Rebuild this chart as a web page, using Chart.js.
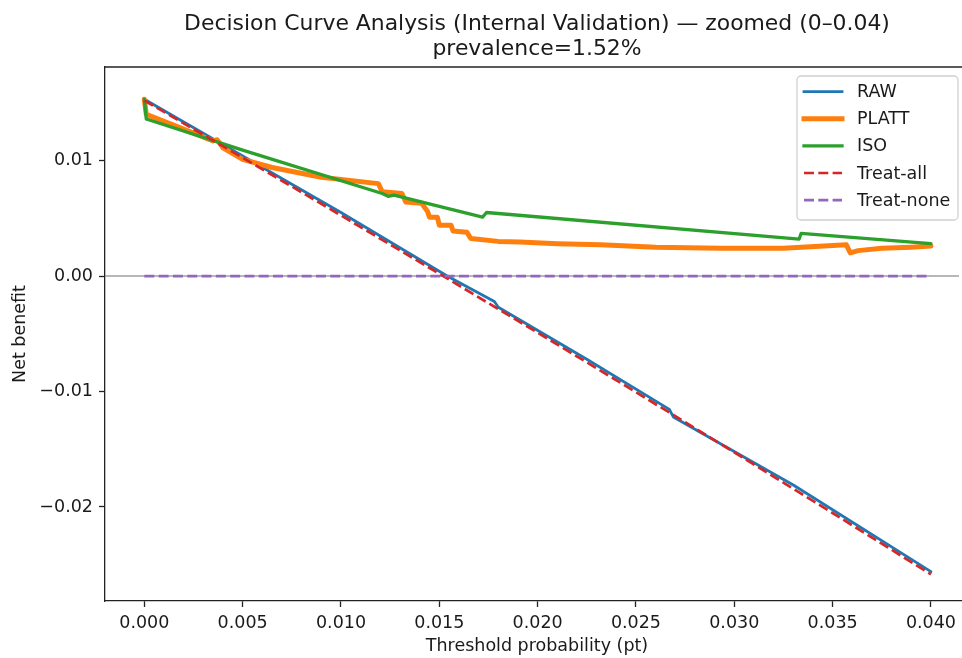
<!DOCTYPE html>
<html>
<head>
<meta charset="utf-8">
<script src="https://cdn.jsdelivr.net/npm/chart.js@4.4.1/dist/chart.umd.min.js"></script>
<style>
  html, body { margin: 0; padding: 0; background: #fff; overflow: hidden; }
  #wrap { width: 962px; height: 658px; }
</style>
</head>
<body>
<div id="wrap"><canvas id="dca" width="962" height="658"></canvas></div>
<script>
// chart text
const chartTitle = ["Decision Curve Analysis (Internal Validation) \u2014 zoomed (0\u20130.04)", "prevalence=1.52%"];
const xLabel = "Threshold probability (pt)";
const yLabel = "Net benefit";

// tick values
const xTicks = [0, 0.005, 0.01, 0.015, 0.02, 0.025, 0.03, 0.035, 0.04];
const yTicks = [-0.02, -0.01, 0, 0.01];

// RAW model
const rawPt = [0, 0.005, 0.01, 0.0154, 0.0178, 0.018, 0.0225, 0.0267, 0.0269, 0.033, 0.04];
const rawNb = [0.0153, 0.0104, 0.0055, 0.0, -0.0022, -0.0027, -0.0072, -0.01155, -0.0122, -0.0181, -0.0256];

// PLATT calibrated
const plattPt = [0, 0.0001, 0.0035, 0.0037, 0.004, 0.005, 0.0065, 0.009, 0.0119, 0.0121, 0.0131, 0.0133, 0.0141,
                 0.0144, 0.0145, 0.0149, 0.015, 0.0156, 0.0157, 0.0164, 0.0166, 0.018, 0.0191, 0.021, 0.0232,
                 0.026, 0.0293, 0.0325, 0.0357, 0.0359, 0.0363, 0.0375, 0.039, 0.04];
const plattNb = [0.0153, 0.0140, 0.0117, 0.0118, 0.0111, 0.0101, 0.0094, 0.00855, 0.0080, 0.0073, 0.00715, 0.0064, 0.0063,
                 0.0056, 0.0051, 0.0051, 0.0044, 0.0044, 0.0039, 0.0038, 0.00325, 0.0030, 0.00295, 0.0028, 0.0027,
                 0.0025, 0.0024, 0.0024, 0.0027, 0.0020, 0.0022, 0.0024, 0.0025, 0.0026];

// ISO calibrated
const isoPt = [0, 0.0001, 0.005, 0.0121, 0.0124, 0.0127, 0.0172, 0.0174, 0.0333, 0.0334, 0.04];
const isoNb = [0.0153, 0.0136, 0.0109, 0.00715, 0.0069, 0.0070, 0.0051, 0.0055, 0.0032, 0.0037, 0.0028];

// reference strategies
const allPt = [0, 0.005, 0.01, 0.015, 0.02, 0.025, 0.03, 0.035, 0.04];
const allNb = [0.0152, 0.01025, 0.00525, 0.0002, -0.0049, -0.01005, -0.01526, -0.02052, -0.02583];
const nonePt = [0, 0.04];
const noneNb = [0, 0];

const pts = (xs, ys) => xs.map((x, i) => ({ x: x, y: ys[i] }));

const FONT = "'DejaVu Sans', 'Liberation Sans', sans-serif";
const INK = "#1a1a1a";

// the original axes run ~7px past the cropped right edge, so centre text on that
const axesMid = a => (a.left + a.right + 7) / 2;

const decoration = {
    id: "decoration",
    beforeDatasetsDraw(chart) {
        const { ctx, chartArea: a, scales } = chart;
        const y0 = scales.y.getPixelForValue(0);
        ctx.save();
        ctx.strokeStyle = "rgba(128,128,128,0.75)";
        ctx.lineWidth = 1.6;
        ctx.beginPath();
        ctx.moveTo(a.left, y0);
        ctx.lineTo(a.right, y0);
        ctx.stroke();
        ctx.restore();
    },
    afterDraw(chart) {
        const { ctx, chartArea: a } = chart;
        ctx.save();

        // keep the cropped right edge clean
        ctx.fillStyle = "#fff";
        ctx.fillRect(a.right - 3, a.top + 1, 6, a.bottom - a.top - 2);

        // top spine
        ctx.strokeStyle = "#222";
        ctx.lineWidth = 1.3;
        ctx.beginPath();
        ctx.moveTo(a.left, a.top);
        ctx.lineTo(a.right, a.top);
        ctx.stroke();

        // title
        ctx.fillStyle = INK;
        ctx.font = "21.9px " + FONT;
        ctx.textAlign = "center";
        ctx.textBaseline = "alphabetic";
        const cx = axesMid(a);
        ctx.fillText(chartTitle[0], cx, 29.5);
        ctx.fillText(chartTitle[1], cx, 54.5);

        // axis titles
        ctx.font = "17.5px " + FONT;
        ctx.textBaseline = "middle";
        ctx.fillText(xLabel, cx, 646);
        ctx.save();
        ctx.translate(20, (a.top + a.bottom) / 2);
        ctx.rotate(-Math.PI / 2);
        ctx.fillText(yLabel, 0, 0);
        ctx.restore();

        // legend
        const lx = a.right - 165, ly = a.top + 9, lw = 161, lh = 144;
        ctx.beginPath();
        ctx.roundRect(lx, ly, lw, lh, 4);
        ctx.fillStyle = "rgba(255,255,255,0.8)";
        ctx.fill();
        ctx.strokeStyle = "#d0d0d0";
        ctx.lineWidth = 1.3;
        ctx.stroke();

        ctx.textAlign = "left";
        chart.data.datasets.forEach((ds, i) => {
            const ry = ly + 15.7 + i * 27.1;
            ctx.beginPath();
            ctx.strokeStyle = ds.borderColor;
            ctx.lineWidth = ds.borderWidth;
            ctx.setLineDash(ds.borderDash || []);
            ctx.lineCap = ds.borderDash ? "butt" : "square";
            ctx.moveTo(lx + 7, ry);
            ctx.lineTo(lx + 45, ry);
            ctx.stroke();
            ctx.setLineDash([]);
            ctx.fillStyle = INK;
            ctx.fillText(ds.label, lx + 60, ry + 1);
        });
        ctx.restore();
    }
};

const line = (label, xs, ys, color, width, order, dash) => ({
    label: label,
    data: pts(xs, ys),
    borderColor: color,
    borderWidth: width,
    borderDash: dash,
    borderJoinStyle: "round",
    borderCapStyle: dash ? "butt" : "round",
    pointRadius: 0,
    tension: 0,
    fill: false,
    order: order
});

new Chart(document.getElementById("dca"), {
    type: "line",
    data: {
        datasets: [
            line("RAW", rawPt, rawNb, "#1f77b4", 2.8, 5),
            line("PLATT", plattPt, plattNb, "#ff7f0e", 5, 4),
            line("ISO", isoPt, isoNb, "#2ca02c", 3.3, 3),
            line("Treat-all", allPt, allNb, "#d62728", 2.7, 2, [10, 4.3]),
            line("Treat-none", nonePt, noneNb, "#9467bd", 2.7, 1, [10, 4.3])
        ]
    },
    options: {
        responsive: false,
        animation: false,
        layout: { padding: { top: 67, right: 0, bottom: 0, left: 0 } },
        plugins: {
            legend: { display: false },
            title: { display: false },
            tooltip: { enabled: false }
        },
        scales: {
            x: {
                type: "linear",
                min: -0.002,
                max: 0.04158,
                afterBuildTicks: s => { s.ticks = xTicks.map(v => ({ value: v })); },
                afterFit: s => { s.height = 57; },
                ticks: {
                    font: { family: FONT, size: 17.5 },
                    color: INK,
                    padding: 6,
                    maxRotation: 0,
                    callback: v => v.toFixed(3)
                },
                grid: {
                    drawOnChartArea: false,
                    drawTicks: true,
                    tickLength: 6,
                    tickColor: "#222",
                    tickWidth: 1.3
                },
                border: { display: true, color: "#222", width: 1.3 }
            },
            y: {
                type: "linear",
                min: -0.02814,
                max: 0.0181,
                afterBuildTicks: s => { s.ticks = yTicks.map(v => ({ value: v })); },
                afterFit: s => { s.width = 105; },
                ticks: {
                    font: { family: FONT, size: 17.5 },
                    color: INK,
                    padding: 6,
                    callback: v => v < 0 ? "\u2212" + Math.abs(v).toFixed(2) : v.toFixed(2)
                },
                grid: {
                    drawOnChartArea: false,
                    drawTicks: true,
                    tickLength: 6,
                    tickColor: "#222",
                    tickWidth: 1.3
                },
                border: { display: true, color: "#222", width: 1.3 }
            }
        }
    },
    plugins: [decoration]
});
</script>
</body>
</html>
